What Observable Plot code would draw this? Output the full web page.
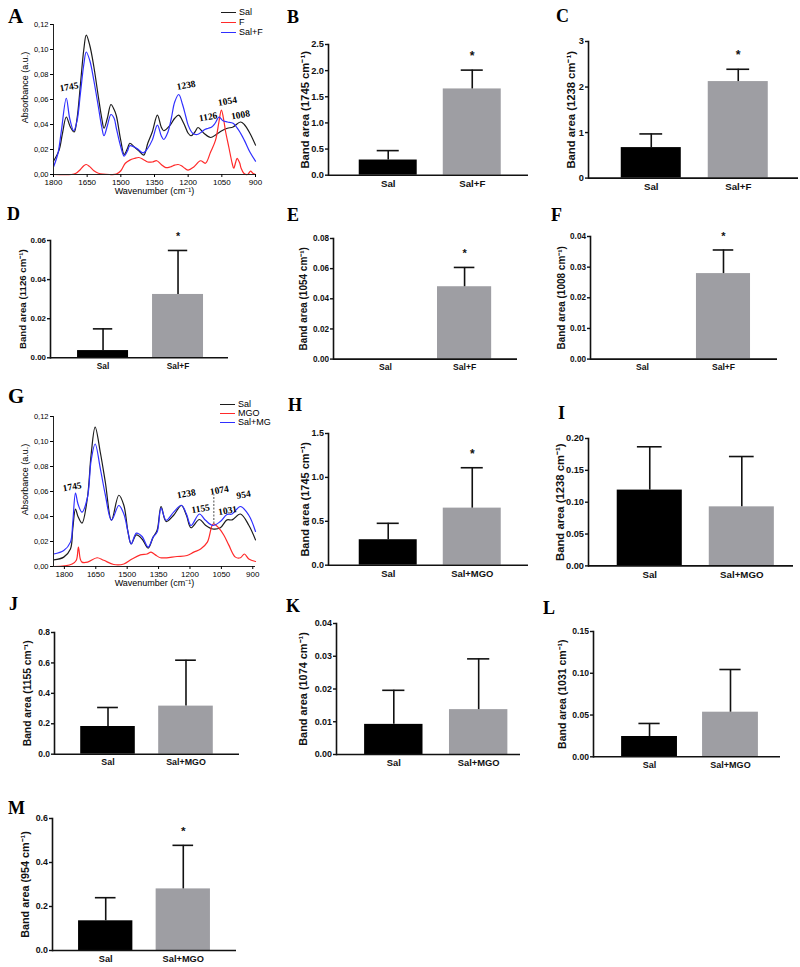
<!DOCTYPE html>
<html>
<head>
<meta charset="utf-8">
<script src="https://cdn.jsdelivr.net/npm/d3@7"></script>
<script src="https://cdn.jsdelivr.net/npm/@observablehq/plot@0.6"></script>
<style>
  body { margin: 0; background: #fff; }
  #fig { position: relative; width: 800px; height: 967px; overflow: hidden; background: #fff;
         font-family: "Liberation Sans", Arial, sans-serif; }
  .letter { position: absolute; font-family: "Liberation Serif", "Times New Roman", serif; font-weight: bold; line-height: 1; color: #000; }
  .leg { position: absolute; font-size: 9px; line-height: 9px; white-space: nowrap; color: #000; }
  .leg span.sw { display: inline-block; width: 15px; height: 0; border-top: 1.2px solid; vertical-align: middle; margin-right: 3px; }
</style>
</head>
<body>
<div id="fig"></div>
<script>
// ---------------- DATA ----------------
// FTIR spectra, panel A (wavenumber cm-1, absorbance)
const salA = [[1800,0.0107],[1775,0.0195],[1760,0.033],[1743,0.046],[1725,0.038],[1708,0.034],[1695,0.045],[1680,0.072],[1665,0.100],[1654,0.1115],[1638,0.103],[1620,0.086],[1600,0.062],[1585,0.045],[1575,0.037],[1560,0.045],[1544,0.056],[1530,0.052],[1520,0.047],[1500,0.027],[1485,0.016],[1470,0.021],[1460,0.025],[1440,0.022],[1420,0.019],[1398,0.0155],[1380,0.025],[1360,0.034],[1337,0.0475],[1320,0.038],[1309,0.035],[1280,0.0395],[1260,0.045],[1242,0.0475],[1220,0.041],[1200,0.033],[1187,0.031],[1170,0.034],[1156,0.0376],[1130,0.033],[1100,0.0296],[1075,0.032],[1050,0.035],[1025,0.037],[1000,0.038],[967,0.042],[950,0.040],[925,0.033],[900,0.0235]];
const fA = [[1800,0],[1720,0],[1700,0.001],[1680,0.004],[1665,0.007],[1654,0.008],[1640,0.0065],[1620,0.003],[1600,0.001],[1550,0],[1520,0.0003],[1500,0.003],[1480,0.009],[1460,0.0115],[1440,0.0128],[1420,0.0136],[1400,0.012],[1380,0.010],[1360,0.010],[1340,0.011],[1320,0.008],[1300,0.0055],[1280,0.006],[1260,0.0075],[1245,0.008],[1230,0.007],[1215,0.005],[1200,0.0035],[1175,0.006],[1145,0.011],[1123,0.009],[1100,0.018],[1078,0.0275],[1063,0.042],[1052,0.0515],[1040,0.042],[1034,0.035],[1019,0.022],[1004,0.009],[997,0.005],[988,0.010],[982,0.013],[975,0.011],[970,0.009],[964,0.005],[952,0.001],[935,0],[922,0.0027],[912,0.001],[900,0]];
const salFA = [[1800,0.006],[1780,0.017],[1765,0.035],[1743,0.061],[1728,0.045],[1710,0.035],[1695,0.043],[1680,0.065],[1665,0.088],[1654,0.098],[1638,0.091],[1620,0.075],[1600,0.054],[1585,0.038],[1575,0.031],[1560,0.039],[1544,0.048],[1530,0.045],[1520,0.037],[1500,0.022],[1485,0.0147],[1470,0.019],[1460,0.023],[1430,0.021],[1400,0.0173],[1380,0.021],[1360,0.0275],[1337,0.0395],[1320,0.031],[1309,0.028],[1290,0.034],[1275,0.045],[1260,0.058],[1242,0.064],[1225,0.056],[1210,0.046],[1200,0.0395],[1180,0.033],[1160,0.032],[1140,0.034],[1126,0.036],[1110,0.037],[1095,0.038],[1080,0.041],[1062,0.046],[1045,0.043],[1025,0.042],[1000,0.041],[975,0.0355],[950,0.0275],[925,0.018],[900,0.0107]];
const namesA = ["Sal", "F", "Sal+F"];
const peakTextA = ["1745", "1238", "1126", "1054", "1008"];
const peakAtA = [[1731,0.0701],[1209,0.0714],[1111,0.0461],[1025,0.0586],[967,0.0477]];

// FTIR spectra, panel G
const salG = [[1851,0.0053],[1803,0.0075],[1771,0.014],[1760,0.03],[1747,0.046],[1735,0.040],[1716,0.0347],[1690,0.055],[1672,0.09],[1653,0.1115],[1628,0.091],[1604,0.067],[1575,0.037],[1540,0.057],[1516,0.049],[1496,0.0275],[1481,0.018],[1456,0.0253],[1429,0.022],[1400,0.0147],[1376,0.0235],[1357,0.029],[1338,0.048],[1314,0.036],[1278,0.041],[1241,0.0488],[1217,0.041],[1195,0.031],[1155,0.0376],[1126,0.033],[1091,0.030],[1055,0.031],[1023,0.0373],[999,0.0373],[959,0.042],[919,0.033],[887,0.0213]];
const mgoG = [[1851,0],[1800,0.0005],[1763,0.002],[1743,0.005],[1733,0.0155],[1724,0.006],[1716,0.0035],[1689,0.0035],[1644,0.007],[1612,0.005],[1564,0.0016],[1516,0.002],[1477,0.006],[1437,0.0093],[1405,0.010],[1386,0.0115],[1365,0.0093],[1341,0.007],[1262,0.008],[1214,0.0088],[1182,0.0115],[1149,0.014],[1117,0.0195],[1089,0.034],[1062,0.0307],[1038,0.025],[1015,0.0173],[983,0.0075],[959,0.007],[940,0.010],[919,0.006],[887,0.004]];
const salMgG = [[1851,0.010],[1803,0.0128],[1771,0.0195],[1760,0.035],[1747,0.0587],[1735,0.050],[1716,0.0435],[1690,0.055],[1672,0.085],[1653,0.098],[1628,0.078],[1604,0.057],[1575,0.037],[1540,0.0488],[1516,0.042],[1496,0.0275],[1481,0.018],[1456,0.0267],[1429,0.024],[1400,0.0155],[1376,0.0235],[1357,0.0275],[1338,0.0467],[1314,0.037],[1278,0.0435],[1241,0.049],[1217,0.042],[1195,0.0328],[1155,0.042],[1126,0.037],[1091,0.0328],[1055,0.036],[1023,0.0416],[999,0.042],[959,0.048],[919,0.041],[887,0.028]];
const namesG = ["Sal", "MGO", "Sal+MG"];
const peakTextG = ["1745", "1238", "1074", "1155", "1031", "954"];
const peakAtG = [[1763,0.0638],[1218,0.0582],[1060,0.0610],[1149,0.0462],[1020,0.0448],[944,0.0574]];
const markerG = {w: 1086, a1: 0.034, a2: 0.0568};

const specXTicks = [1800, 1650, 1500, 1350, 1200, 1050, 900];
const specYTicks = [0, 0.02, 0.04, 0.06, 0.08, 0.10, 0.12];

// Band areas: mean and SD per group
const groupsF = ["Sal", "Sal+F"];
const groupsMGO = ["Sal", "Sal+MGO"];
const meanB = [0.29, 1.65], sdB = [0.18, 0.36], sigB = ["", "*"];
const meanC = [0.67, 2.12], sdC = [0.30, 0.27], sigC = ["", "*"];
const meanD = [0.0037, 0.0324], sdD = [0.0111, 0.0225], sigD = ["", "*"];
const meanE = [0, 0.048], sdE = [0, 0.0128], sigE = ["", "*"];
const meanF = [0, 0.0279], sdF = [0, 0.0077], sigF = ["", "*"];
const meanH = [0.29, 0.65], sdH = [0.187, 0.46], sigH = ["", "*"];
const meanI = [0.119, 0.0927], sdI = [0.068, 0.079], sigI = ["", ""];
const meanJ = [0.182, 0.316], sdJ = [0.125, 0.302], sigJ = ["", ""];
const meanK = [0.0092, 0.0137], sdK = [0.0104, 0.0155], sigK = ["", ""];
const meanL = [0.0243, 0.0534], sdL = [0.0156, 0.0511], sigL = ["", ""];
const meanM = [0.135, 0.28], sdM = [0.105, 0.198], sigM = ["", "*"];

const ticksB = [0, 0.5, 1, 1.5, 2, 2.5];
const ticksC = [0, 1, 2, 3];
const ticksD = [0, 0.02, 0.04, 0.06];
const ticksE = [0, 0.02, 0.04, 0.06, 0.08];
const ticksF = [0, 0.01, 0.02, 0.03, 0.04];
const ticksH = [0, 0.5, 1, 1.5];
const ticksI = [0, 0.05, 0.10, 0.15, 0.20];
const ticksJ = [0, 0.2, 0.4, 0.6, 0.8];
const ticksK = [0, 0.01, 0.02, 0.03, 0.04];
const ticksL = [0, 0.05, 0.10, 0.15];
const ticksM = [0, 0.2, 0.4, 0.6];

// ---------------- STYLE / LAYOUT ----------------
const SANS = "'Liberation Sans', Arial, Helvetica, sans-serif";
const SERIF = "'Liberation Serif', 'Times New Roman', serif";
const specColors = ["#1c1c1c", "#ff2a2a", "#2f2fff"];
const barColors = ["#000000", "#9e9ea3"];
const fig = document.getElementById("fig");

function place(el, left, top) {
  el.style.position = "absolute";
  el.style.left = left + "px";
  el.style.top = top + "px";
  fig.appendChild(el);
}

function letter(t, left, baseline, size) {
  const d = document.createElement("div");
  d.className = "letter";
  d.textContent = t;
  d.style.fontSize = size + "px";
  place(d, left, baseline - size * 0.89);
}

function legend(names, left, rowTops) {
  names.forEach((n, i) => {
    const d = document.createElement("div");
    d.className = "leg";
    d.innerHTML = `<span class="sw" style="border-color:${specColors[i]}"></span>${n}`;
    place(d, left, rowTops[i]);
  });
}

function specPanel(p) {
  const data = p.series.flatMap((s, i) => s.map(([w, a]) => ({w, a, s: p.names[i]})));
  const peaks = p.peakText.map((t, i) => ({t, w: p.peakAt[i][0], a: p.peakAt[i][1]}));
  const marks = [
    Plot.line(data, {x: "w", y: "a", z: "s", stroke: "s", curve: "catmull-rom", strokeWidth: 1.2}),
    Plot.text(peaks, {x: "w", y: "a", text: "t", rotate: -10, fontFamily: SERIF, fontWeight: "bold", fontSize: 9.5}),
    Plot.ruleY([0], {stroke: "#222", strokeWidth: 1}),
    Plot.frame({anchor: "left", stroke: "#222", strokeWidth: 1}),
    Plot.axisX({ticks: specXTicks, tickSize: 3, tickPadding: 2, tickFormat: d => String(d), label: null, fontSize: 8}),
    Plot.axisY({ticks: specYTicks, tickSize: 3, tickPadding: 2, tickFormat: d => d.toFixed(2).replace(".", ","), label: null, fontSize: 7.5}),
    Plot.text(["Wavenumber (cm\u207B\u00B9)"], {frameAnchor: "bottom", textAnchor: "middle", text: d => d, dy: 19, fontSize: 9}),
    Plot.text(["Absorbance (a.u.)"], {frameAnchor: "left", textAnchor: "middle", text: d => d, rotate: -90, dx: -28, dy: -12, fontSize: 9})
  ];
  if (p.marker) {
    marks.splice(1, 0, Plot.ruleX([p.marker], {x: "w", y1: "a1", y2: "a2", stroke: "#222", strokeWidth: 0.8, strokeDasharray: "2,1.5"}));
  }
  const svg = Plot.plot({
    width: 270, height: 200,
    marginLeft: 53, marginRight: 15, marginTop: p.mt, marginBottom: p.mb,
    style: {background: "transparent", overflow: "visible", fontFamily: SANS, fontSize: "8px", color: "#000"},
    x: {domain: p.xDomain},
    y: {domain: [0, 0.12]},
    color: {domain: p.names, range: specColors},
    marks
  });
  place(svg, 0, p.top);
}

function barPanel(p) {
  const ml = 50, mr = 8, mt = 24, mb = 26;
  const W = p.R - p.L, H = p.B - p.T;
  const data = p.groups.map((g, i) => ({g, m: p.mean[i], up: p.mean[i] + p.sd[i], sd: p.sd[i], s: p.sig[i]}));
  const err = data.filter(d => d.sd > 0);
  const step = W / (2 - p.pi + 2 * p.po), bw = step * (1 - p.pi);
  const svg = Plot.plot({
    width: W + ml + mr, height: H + mt + mb,
    marginLeft: ml, marginRight: mr, marginTop: mt, marginBottom: mb,
    style: {background: "transparent", overflow: "visible", fontFamily: SANS, fontSize: p.fs + "px", fontWeight: "bold", color: "#111"},
    x: {domain: p.groups, paddingInner: p.pi, paddingOuter: p.po, align: p.align, round: false},
    y: {domain: [0, p.ticks[p.ticks.length - 1]]},
    color: {domain: p.groups, range: barColors},
    marks: [
      Plot.barY(data, {x: "g", y: "m", fill: "g"}),
      Plot.ruleX(err, {x: "g", y1: "m", y2: "up", stroke: "#111", strokeWidth: 1.6}),
      Plot.tickY(err, {x: "g", y: "up", stroke: "#111", strokeWidth: 1.6, inset: bw * 0.31}),
      Plot.text(data.filter(d => d.s), {x: "g", y: "up", text: "s", dy: -14, fontSize: p.fs + 1}),
      Plot.ruleY([0], {stroke: "#111", strokeWidth: 1.6}),
      Plot.frame({anchor: "left", stroke: "#111", strokeWidth: 1.6}),
      Plot.axisY({ticks: p.ticks, tickFormat: d => d.toFixed(p.dec), tickSize: 3, tickPadding: 1.5, strokeWidth: 1.4, fontSize: p.fs * 0.82, label: null}),
      Plot.axisX({tickSize: 0, tickPadding: 5, fontSize: p.fs * 0.86, label: null}),
      Plot.text([p.title], {frameAnchor: "left", textAnchor: "middle", text: d => d, rotate: -90, dx: -p.tOff, fontSize: p.fs})
    ]
  });
  place(svg, p.L - ml, p.T - mt);
}

// ---------------- DRAW ----------------
const CM = " cm\u207B\u00B9)";
specPanel({series: [salA, fA, salFA], names: namesA, peakText: peakTextA, peakAt: peakAtA,
           xDomain: [1800, 900], top: 0, mt: 24, mb: 26});
specPanel({series: [salG, mgoG, salMgG], names: namesG, peakText: peakTextG, peakAt: peakAtG,
           marker: markerG, xDomain: [1852, 887], top: 395, mt: 21, mb: 29});

legend(namesA, 221, [8, 18, 27.5]);
legend(namesG, 220, [400, 409, 418]);

const bars = [
  {groups: groupsF, mean: meanB, sd: sdB, sig: sigB, ticks: ticksB, dec: 1, title: "Band area (1745" + CM, L: 328, R: 528, T: 44.3, B: 175, pi: 0.31, po: 0.345, align: 0.53, fs: 11.3, tOff: 23},
  {groups: groupsF, mean: meanC, sd: sdC, sig: sigC, ticks: ticksC, dec: 0, title: "Band area (1238" + CM, L: 588, R: 798, T: 40.7, B: 177.3, pi: 0.31, po: 0.362, align: 0.52, fs: 11.3, tOff: 17.5},
  {groups: groupsF, mean: meanD, sd: sdD, sig: sigD, ticks: ticksD, dec: 2, title: "Band area (1126" + CM, L: 50, R: 228, T: 240, B: 357.3, pi: 0.32, po: 0.347, align: 0.52, fs: 9.7, tOff: 28},
  {groups: groupsF, mean: meanE, sd: sdE, sig: sigE, ticks: ticksE, dec: 2, title: "Band area (1054" + CM, L: 333, R: 517, T: 237.7, B: 358.3, pi: 0.316, po: 0.32, align: 0.49, fs: 10, tOff: 30},
  {groups: groupsF, mean: meanF, sd: sdF, sig: sigF, ticks: ticksF, dec: 2, title: "Band area (1008" + CM, L: 590, R: 777, T: 235.7, B: 358.3, pi: 0.333, po: 0.32, align: 0.48, fs: 10, tOff: 29},
  {groups: groupsMGO, mean: meanH, sd: sdH, sig: sigH, ticks: ticksH, dec: 1, title: "Band area (1745" + CM, L: 328, R: 528, T: 433.3, B: 565, pi: 0.31, po: 0.345, align: 0.53, fs: 11, tOff: 23},
  {groups: groupsMGO, mean: meanI, sd: sdI, sig: sigI, ticks: ticksI, dec: 2, title: "Band area (1238" + CM, L: 588, R: 793, T: 438.3, B: 565.7, pi: 0.293, po: 0.26, align: 0.6, fs: 11.3, tOff: 28},
  {groups: groupsMGO, mean: meanJ, sd: sdJ, sig: sigJ, ticks: ticksJ, dec: 1, title: "Band area (1155" + CM, L: 54, R: 239, T: 632.3, B: 754, pi: 0.30, po: 0.336, align: 0.5, fs: 10.3, tOff: 27},
  {groups: groupsMGO, mean: meanK, sd: sdK, sig: sigK, ticks: ticksK, dec: 2, title: "Band area (1074" + CM, L: 336, R: 520, T: 623.3, B: 754.3, pi: 0.312, po: 0.24, align: 0.69, fs: 10.9, tOff: 33},
  {groups: groupsMGO, mean: meanL, sd: sdL, sig: sigL, ticks: ticksL, dec: 2, title: "Band area (1031" + CM, L: 593, R: 780, T: 630.7, B: 756, pi: 0.31, po: 0.31, align: 0.56, fs: 10.5, tOff: 31},
  {groups: groupsMGO, mean: meanM, sd: sdM, sig: sigM, ticks: ticksM, dec: 1, title: "Band area (954" + CM, L: 52, R: 236, T: 818, B: 950, pi: 0.30, po: 0.336, align: 0.5, fs: 10.8, tOff: 27}
];
bars.forEach(barPanel);

letter("A", 8, 25, 21);
letter("B", 287, 24, 18);
letter("C", 556, 23, 18);
letter("D", 7, 221, 18);
letter("E", 287, 222, 18);
letter("F", 551, 222, 18);
letter("G", 8, 405, 21);
letter("H", 288, 412, 18);
letter("I", 558, 420, 18);
letter("J", 9, 611, 18);
letter("K", 286, 613, 18);
letter("L", 543, 615, 18);
letter("M", 8, 815, 18);
</script>
</body>
</html>
